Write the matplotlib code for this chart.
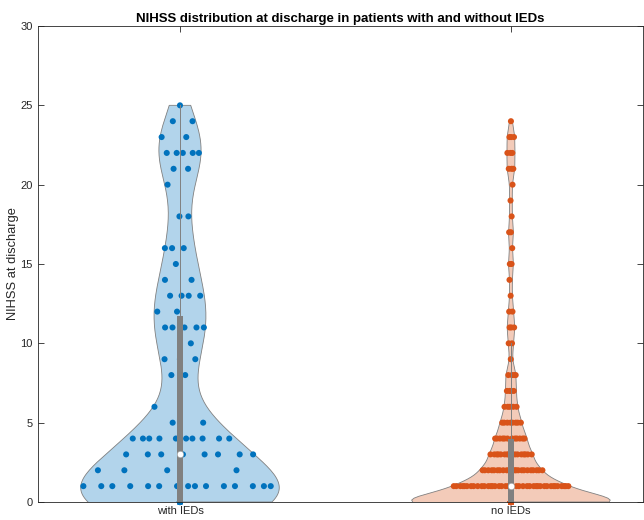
import matplotlib
matplotlib.use("Agg")
import matplotlib.pyplot as plt
import numpy as np
from matplotlib.patches import Rectangle

plt.rcParams["font.family"] = ["Liberation Sans", "DejaVu Sans"]

# NIHSS at discharge, number of patients per score
group_names = ["with IEDs", "no IEDs"]
with_ieds_scores = list(range(0, 26))
with_ieds_counts = [28, 15, 4, 8, 10, 2, 1, 0, 2, 3, 1, 5, 2,
                    4, 2, 1, 3, 0, 2, 0, 1, 2, 5, 2, 2, 1]
no_ieds_scores = list(range(0, 25))
no_ieds_counts = [91, 40, 22, 16, 12, 8, 5, 4, 4, 1, 2, 3, 2,
                  1, 1, 2, 1, 2, 1, 1, 1, 3, 3, 3, 1]
group_colors = ["#0072BD", "#D95319"]

violin_width = 0.3
box_width = 0.02
gray = (0.5, 0.5, 0.5)


def matlab_bandwidth(data):
    # ksdensity default: MAD based normal reference rule
    sig = np.median(np.abs(data - np.median(data))) / 0.6745
    return sig * (4 / (3 * len(data))) ** 0.2


def draw_violin(ax, pos, data, color):
    bw = matlab_bandwidth(data)
    grid = np.linspace(data.min(), data.max(), 200)
    dens = np.exp(-0.5 * ((grid[:, None] - data[None, :]) / bw) ** 2).sum(axis=1)
    half = dens / dens.max() * violin_width
    xs = np.concatenate([[pos], pos + half, [pos], pos - half[::-1]])
    ys = np.concatenate([[grid[0]], grid, [grid[-1]], grid[::-1]])
    ax.fill(xs, ys, facecolor=color, alpha=0.3, edgecolor="none", zorder=1)
    ax.plot(xs, ys, color=gray, lw=0.6, zorder=1.5)

    # spread points inside the violin (deterministic golden-ratio jitter)
    strength = np.interp(data, grid, half)
    strength[(data == data.min()) | (data == data.max())] = 0
    frac = (np.arange(1, len(data) + 1) * 0.6180339887) % 1.0
    ax.scatter(pos + (2 * frac - 1) * strength, data, s=19, color=color,
               edgecolors="none", zorder=2, clip_on=False)

    q1, med, q3 = np.percentile(data, [25, 50, 75])
    iqr = q3 - q1
    hi = data[data <= q3 + 1.5 * iqr].max()
    lo = data[data >= q1 - 1.5 * iqr].min()
    ax.plot([pos, pos], [lo, hi], color=gray, lw=0.7, zorder=3)
    ax.add_patch(Rectangle((pos - box_width / 2, q1), box_width, q3 - q1,
                           facecolor=gray, edgecolor="none", zorder=4))
    ax.scatter([pos], [med], s=22, color="white", edgecolors=(0.6, 0.6, 0.6),
               linewidths=0.4, zorder=5)


fig = plt.figure(figsize=(6.44, 5.2), dpi=100)
ax = fig.add_axes([38 / 644, 18 / 520, 605 / 644, 476 / 520])

datasets = [np.repeat(with_ieds_scores, with_ieds_counts).astype(float),
            np.repeat(no_ieds_scores, no_ieds_counts).astype(float)]
for i, (data, color) in enumerate(zip(datasets, group_colors)):
    draw_violin(ax, i + 1, data, color)

ax.set_xlim(0.571, 2.399)
ax.set_ylim(0, 30)
ax.set_xticks([1, 2])
ax.set_xticklabels(group_names)
ax.set_yticks(range(0, 31, 5))
ax.tick_params(direction="in", length=4, width=0.6, labelsize=8,
               top=True, right=True, colors="#262626", pad=3)
ax.tick_params(axis="y", pad=4)
for side in ax.spines.values():
    side.set_linewidth(0.6)
    side.set_color("#262626")
ax.set_ylabel("NIHSS at discharge", fontsize=9.3, color="#262626")
ax.yaxis.set_label_coords(-0.032, 0.5)
ax.set_title("NIHSS distribution at discharge in patients with and without IEDs",
             fontsize=9.5, fontweight="bold", pad=3)

fig.savefig("out.png", dpi=100)
